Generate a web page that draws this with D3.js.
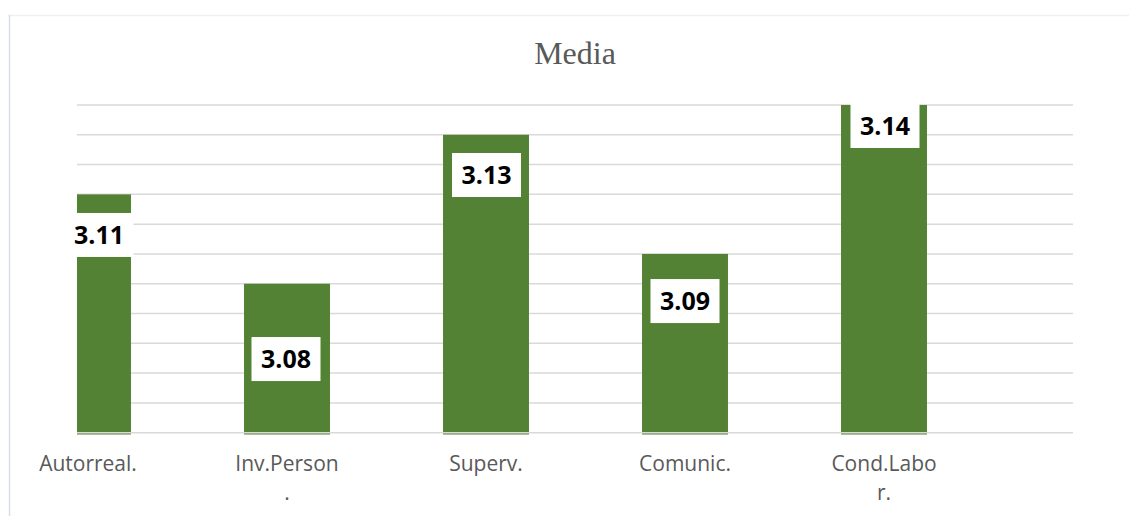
<!DOCTYPE html>
<html>
<head>
<meta charset="utf-8">
<script src="https://cdn.jsdelivr.net/npm/d3@7"></script>
<style>
  html, body { margin: 0; padding: 0; background: #ffffff; }
  svg { display: block; }
</style>
</head>
<body>
<svg id="chart" width="1129" height="516"></svg>
<script>
// Mean score per dimension
const categories = ["Autorreal.", "Inv.Person.", "Superv.", "Comunic.", "Cond.Labor."];
const tickLabels = [["Autorreal."], ["Inv.Person", "."], ["Superv."], ["Comunic."], ["Cond.Labo", "r."]];
const values = [3.11, 3.08, 3.13, 3.09, 3.14];
const valueLabels = ["3.11", "3.08", "3.13", "3.09", "3.14"];
const yDomain = [3.03, 3.14];
const title = "Media";

// Layout
const W = 1129, H = 516;
const plot = { left: 77, right: 1073, top: 105, bottom: 432.7 };
const barColor = "#548235";
const gridColor = "#d9d9d9";
const textGray = "#595959";
// Data-label box placement, relative to each bar's centre and top
const labelDx = [11, -1, 0.5, 0, 1];
const labelDy = [40.6, 75.3, 40.2, 47.1, 21];
const boxW = 69, boxH = 44;

const svg = d3.select("#chart");

// Chart-area frame
svg.append("line").attr("x1", 8).attr("x2", W).attr("y1", 15.5).attr("y2", 15.5)
  .attr("stroke", "#eef0f6").attr("stroke-width", 1.5);
svg.append("line").attr("x1", 9.5).attr("x2", 9.5).attr("y1", 15).attr("y2", H)
  .attr("stroke", "#d8deee").attr("stroke-width", 1.5);

// Scales
const x = d3.scaleBand()
  .domain(categories)
  .range([-11.5, 983.5])
  .paddingInner(0.568)
  .paddingOuter(0.284);

const y = d3.scaleLinear().domain(yDomain).range([plot.bottom, plot.top]);

// Gridlines
const gridTicks = y.ticks(11);
svg.append("g").selectAll("line.grid")
  .data(gridTicks.filter(t => Math.abs(t - yDomain[0]) > 1e-9))
  .join("line")
  .attr("class", "grid")
  .attr("x1", plot.left).attr("x2", plot.right)
  .attr("y1", d => y(d)).attr("y2", d => y(d))
  .attr("stroke", gridColor).attr("stroke-width", 1.5);

// Bars, clipped to the plot area
svg.append("clipPath").attr("id", "plotClip")
  .append("rect").attr("x", plot.left).attr("y", 0)
  .attr("width", plot.right - plot.left).attr("height", H);

svg.append("g").attr("clip-path", "url(#plotClip)")
  .selectAll("rect.bar")
  .data(values)
  .join("rect")
  .attr("class", "bar")
  .attr("x", (d, i) => x(categories[i]))
  .attr("width", x.bandwidth())
  .attr("y", d => y(d))
  .attr("height", d => y(yDomain[0]) - y(d) + 1.8)
  .attr("fill", barColor);

// Baseline on top of the bars
svg.append("line")
  .attr("x1", plot.left).attr("x2", plot.right)
  .attr("y1", y(yDomain[0])).attr("y2", y(yDomain[0]))
  .attr("stroke", gridColor).attr("stroke-width", 1.5);

// Category axis
const xAxis = d3.axisBottom(x).tickSize(0).tickPadding(0);
const axisG = svg.append("g")
  .attr("transform", `translate(0,${y(yDomain[0])})`)
  .call(xAxis);
axisG.select(".domain").remove();
axisG.selectAll(".tick text").each(function (d) {
  const i = categories.indexOf(d);
  const t = d3.select(this);
  t.text(null)
    .attr("y", 0).attr("dy", null)
    .attr("fill", textGray)
    .style("font-family", "'Open Sans', sans-serif")
    .style("font-size", "21px");
  tickLabels[i].forEach((line, k) => {
    t.append("tspan").attr("x", 0).attr("y", 38.3 + k * 29).text(line);
  });
});

// Value labels
const labels = svg.append("g").selectAll("g.label")
  .data(values)
  .join("g")
  .attr("class", "label")
  .attr("transform", (d, i) =>
    `translate(${x(categories[i]) + x.bandwidth() / 2 + labelDx[i]},${y(d) + labelDy[i]})`);

labels.append("rect")
  .attr("x", -boxW / 2).attr("y", -boxH / 2)
  .attr("width", boxW).attr("height", boxH)
  .attr("fill", "#ffffff");

labels.append("text")
  .attr("text-anchor", "middle")
  .attr("y", 8.6)
  .attr("fill", "#000000")
  .style("font-family", "'Open Sans', sans-serif")
  .style("font-weight", "700")
  .style("font-size", "25px")
  .text((d, i) => valueLabels[i]);

// Title
svg.append("text")
  .attr("x", (plot.left + plot.right) / 2)
  .attr("y", 64)
  .attr("text-anchor", "middle")
  .attr("fill", textGray)
  .style("font-family", "'Liberation Serif', 'Times New Roman', serif")
  .style("font-size", "32px")
  .text(title);
</script>
</body>
</html>
